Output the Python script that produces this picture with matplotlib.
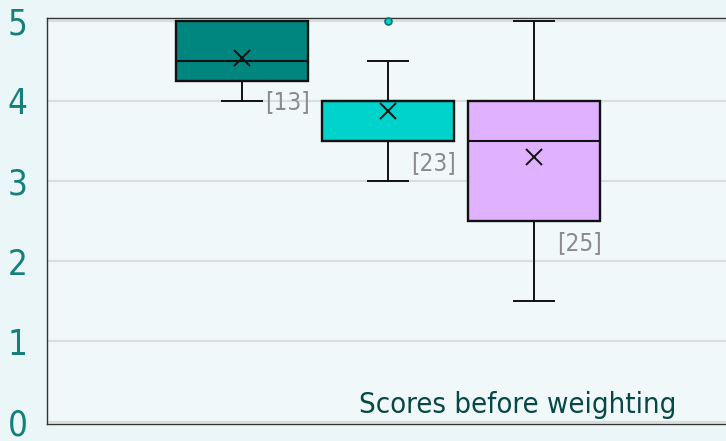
import numpy as np
import matplotlib.pyplot as plt

# box statistics
groups = ['A', 'B', 'C']
q1 = [4.25, 3.5, 2.5]
med = [4.5, 4.0, 3.5]
q3 = [5.0, 4.0, 4.0]
whislo = [4.0, 3.0, 1.5]
whishi = [5.0, 4.5, 5.0]
means = [4.54, 3.87, 3.30]
fliers = [[], [5.0], []]
counts = [13, 23, 25]
colors = ['#00857f', '#00d2cc', '#e0b1fe']

plt.rcParams['font.family'] = ['DejaVu Sans']
plt.rcParams['font.stretch'] = 'condensed'

fig = plt.figure(figsize=(7.26, 4.41), dpi=100)
fig.patch.set_facecolor('#ebf6f9')
ax = fig.add_axes([47/726, 17/441, 1 - 47/726, 1 - 34.5/441])
ax.set_facecolor('#f1f8fa')

stats = []
for i in range(len(groups)):
    stats.append(dict(q1=q1[i], med=med[i], q3=q3[i], whislo=whislo[i],
                      whishi=whishi[i], mean=means[i], fliers=fliers[i]))

pos = np.arange(len(groups))
bp = ax.bxp(stats, positions=pos, widths=0.9, capwidths=0.27,
            patch_artist=True, showmeans=True, zorder=3,
            boxprops=dict(linewidth=1.7, edgecolor='#111111'),
            medianprops=dict(color='#111111', linewidth=1.5),
            whiskerprops=dict(color='#111111', linewidth=1.4),
            capprops=dict(color='#111111', linewidth=1.4),
            meanprops=dict(marker='x', markersize=11, markeredgewidth=1.4,
                           markeredgecolor='#111111'),
            flierprops=dict(marker='o', markersize=5, markerfacecolor='#00d2cc',
                            markeredgecolor='#0b6f6c', markeredgewidth=1.2))
for patch, c in zip(bp['boxes'], colors):
    patch.set_facecolor(c)
for fl in bp['fliers']:
    fl.set_clip_on(False)

for i in range(len(groups)):
    ax.text(pos[i] + 0.16, q1[i] - 0.27, '[%d]' % counts[i], color='#8a8a8a',
            fontsize=17.5, va='center', ha='left', zorder=4)

ax.set_xlim(-1.336, 3.315)
ax.set_ylim(-0.03, 5.04)
ax.set_yticks([0, 1, 2, 3, 4, 5])
ax.set_xticks([])
ax.tick_params(axis='y', length=0, pad=14, labelsize=25, labelcolor='#14807c')
ax.grid(axis='y', color='#dadddd', linewidth=1.6, zorder=0)
ax.set_axisbelow(True)

for s in ['left', 'top', 'bottom']:
    ax.spines[s].set_color('#333333')
    ax.spines[s].set_linewidth(1.0)
ax.spines['right'].set_visible(False)

ax.text(2.973, 0.11, 'Scores before weighting', color='#074846', fontsize=21,
        ha='right', va='baseline', zorder=4)

fig.savefig('out.png', dpi=100, facecolor=fig.get_facecolor())
